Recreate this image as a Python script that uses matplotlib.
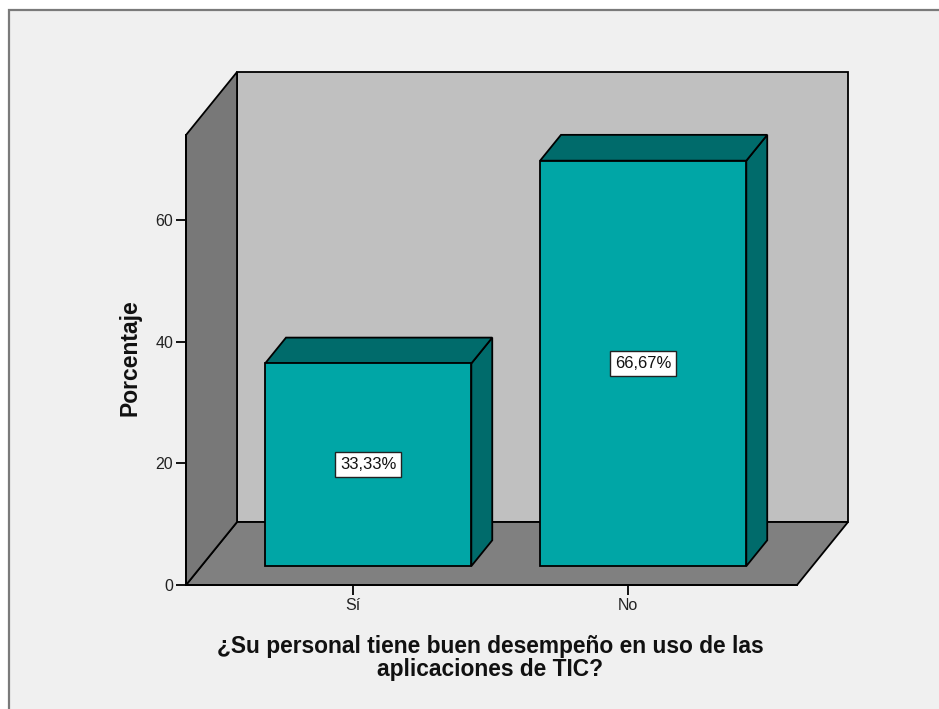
import matplotlib
matplotlib.use("Agg")
import matplotlib.pyplot as plt
from matplotlib.patches import Polygon, Rectangle

# Data
categories = ["Sí", "No"]
percentages = [33.33, 66.67]
value_labels = ["33,33%", "66,67%"]
y_ticks = [0, 20, 40, 60]
x_title = "¿Su personal tiene buen desempeño en uso de las\naplicaciones de TIC?"
y_title = "Porcentaje"

W, H = 939, 709
DPI = 100
plt.rcParams["font.family"] = ["Liberation Sans", "DejaVu Sans"]

fig = plt.figure(figsize=(W / DPI, H / DPI), dpi=DPI)
fig.patch.set_facecolor("white")

# Light gray chart frame below a thin white strip
fig.patches.append(Rectangle((9 / W, -0.1), 1.2, 1 - 10 / H + 0.1,
                             transform=fig.transFigure, facecolor="#F0F0F0",
                             edgecolor="#7a7a7a", linewidth=1.6, zorder=-10))

# Front plane of the 3D box
ax = fig.add_axes([186 / W, 1 - 585 / H, (797 - 186) / W, (585 - 135) / H])
ax.patch.set_visible(False)
XMIN, XMAX = -0.607, 1.615
YMAX = 74.0
ax.set_xlim(XMIN, XMAX)
ax.set_ylim(0, YMAX)

# Depth of the box in data units (x, y)
DX, DY = 0.1855, 10.357
EDGE = dict(edgecolor="black", linewidth=1.3, clip_on=False)


def poly(pts, color, z):
    ax.add_patch(Polygon(pts, closed=True, facecolor=color, zorder=z, **EDGE))


# Back wall, floor and side wall
poly([(XMIN + DX, DY), (XMAX + DX, DY), (XMAX + DX, YMAX + DY), (XMIN + DX, YMAX + DY)],
     "#C0C0C0", 1)
poly([(XMIN, 0), (XMAX, 0), (XMAX + DX, DY), (XMIN + DX, DY)], "#808080", 2)
poly([(XMIN, 0), (XMIN + DX, DY), (XMIN + DX, YMAX + DY), (XMIN, YMAX)], "#787878", 2)

# 3D bars
BAR_W = 0.75
F0, F1 = 0.30, 0.71          # front and back depth fractions of the bars
FRONT = "#00A6A6"
DARK = "#006B6B"
for i, (v, lab) in enumerate(zip(percentages, value_labels)):
    x0 = i - BAR_W / 2 + F0 * DX
    x1 = i + BAR_W / 2 + F0 * DX
    y0 = F0 * DY
    y1 = v + F0 * DY
    ddx, ddy = (F1 - F0) * DX, (F1 - F0) * DY
    poly([(x1, y0), (x1 + ddx, y0 + ddy), (x1 + ddx, y1 + ddy), (x1, y1)], DARK, 4)
    poly([(x0, y1), (x1, y1), (x1 + ddx, y1 + ddy), (x0 + ddx, y1 + ddy)], DARK, 4)
    poly([(x0, y0), (x1, y0), (x1, y1), (x0, y1)], FRONT, 5)
    ax.text((x0 + x1) / 2, (y0 + y1) / 2, lab, ha="center", va="center",
            fontsize=12, color="#111111", zorder=6,
            bbox=dict(boxstyle="square,pad=0.3", facecolor="white",
                      edgecolor="#222222", linewidth=1.0))

# Axes
for side in ("top", "right"):
    ax.spines[side].set_visible(False)
for side in ("left", "bottom"):
    ax.spines[side].set_linewidth(1.4)
    ax.spines[side].set_zorder(3)
ax.set_yticks(y_ticks)
ax.set_xticks(range(len(categories)))
ax.set_xticklabels(categories)
ax.tick_params(axis="both", direction="out", length=7.2, width=1.3,
               labelsize=11.5, colors="black", labelcolor="#222222", pad=2)

fig.text(130 / W, 1 - 358 / H, y_title, rotation=90, ha="center", va="center",
         fontsize=16.5, fontweight="bold", color="#111111")
fig.text(490 / W, 1 - 658 / H, x_title, ha="center", va="center",
         fontsize=16.4, fontweight="bold", color="#111111", linespacing=0.95,
         multialignment="center")

fig.savefig("out.png", dpi=DPI, facecolor=fig.get_facecolor())
